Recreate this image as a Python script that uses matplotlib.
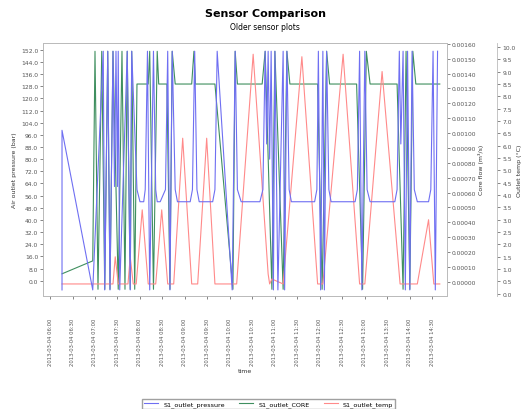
import matplotlib
matplotlib.use("Agg")
import matplotlib.pyplot as plt
import numpy as np

# time axis: minutes after 2013-03-04 06:00
tick_minutes = list(range(0, 540, 30))
tick_labels = ["2013-03-04 %02d:%02d" % (6 + m // 60, m % 60) for m in tick_minutes]

# air outlet pressure (left axis)
pres_t = [16, 16, 57, 71, 73, 77, 80, 84, 86, 88, 90, 91, 93, 103, 107, 109,
          116, 120, 125, 127, 130, 133, 138, 141, 143, 147, 154, 157, 160, 163,
          167, 170, 187, 190, 193, 196, 199, 217, 220, 223, 243, 247,
          250, 255, 280, 284, 287, 289, 291, 293, 295, 298, 300, 304, 311, 313, 316,
          319, 322, 353, 356, 358, 361, 364, 366, 369,
          372, 375, 407, 410, 413, 416, 420,
          423, 427, 460, 463, 466, 468, 471, 474, 477, 480, 483,
          486, 490, 505, 508, 511, 514, 517]
pres_v = [-6, 99, -6, 151, -6, 151, -6, 151, 62, 151, 62, 151, -6, 151, -6, 151,
          60, 52, 52, 60, 151, -6, 151, 60, 52, 52, 60, 151, -6, 151,
          60, 52, 52, 60, 151, 60, 52, 52, 60, 151, -6, 151,
          60, 52, 52, 60, 151, 90, 151, 80, 151, -6, 151, -6, 151, -6, 151,
          60, 52, 52, 60, 151, -6, 151, -6, 151,
          60, 52, 52, 60, 151, -6, 151,
          60, 52, 52, 60, 151, 90, 151, -6, 151, -6, 151,
          60, 52, 52, 60, 151, -6, 151]

# core flow (first right axis)
flow_t = [16, 57, 60, 64, 69, 73, 77, 80, 84, 91, 96, 100, 103, 107, 109, 113,
          116, 131, 133, 138, 143, 145, 156, 160, 163, 167, 189, 192, 194, 196,
          220, 244, 247, 250, 283, 287, 296, 300, 311, 316, 320,
          357, 363, 369, 373, 409, 417, 422, 427, 463, 471, 475, 480, 484, 488, 520]
flow_v = [0.000054, 0.000141, 0.00155, -0.00005, 0.00155, -0.00005, 0.00155, -0.00005,
          0.00155, -0.00005, 0.00155, -0.00005, 0.00155, -0.00005, 0.00155, -0.00005,
          0.00133, 0.00133, 0.00155, -0.00005, 0.00155, 0.00133, 0.00133, -0.00005,
          0.00155, 0.00133, 0.00133, 0.00155, 0.00133, 0.00133,
          0.00133, -0.00005, 0.00155, 0.00133, 0.00133, 0.00155, -0.00005, 0.00155,
          -0.00005, 0.00155, 0.00133,
          0.00133, -0.00005, 0.00155, 0.00133, 0.00133, -0.00005, 0.00155, 0.00133,
          0.00133, -0.00005, 0.00155, -0.00005, 0.00155, 0.00133, 0.00133]

# outlet temperature (second right axis)
temp_t = [16, 84, 87, 91, 104, 107, 111, 115, 123, 131, 141, 149, 157, 165, 177, 189,
          197, 209, 220, 249, 271, 291, 293, 296, 311, 336, 357, 364, 391, 413,
          420, 443, 467, 490, 505, 512, 520]
temp_v = [0.4, 0.4, 1.5, 0.4, 0.4, 1.5, 0.4, 0.4, 3.4, 0.4, 0.4, 3.4, 0.4, 0.4, 6.3, 0.4,
          0.4, 6.3, 0.4, 0.4, 9.7, 0.8, 0.4, 0.6, 0.4, 9.6, 0.4, 0.4, 9.7, 0.4,
          0.4, 9.0, 0.4, 0.4, 3.0, 0.4, 0.4]

series_names = ["S1_outlet_pressure", "S1_outlet_CORE", "S1_outlet_temp"]
colors = ["#6f6ff2", "#3f8f5f", "#ff8a8a"]

fig = plt.figure(figsize=(5.25, 4.1), dpi=100)
ax = fig.add_axes([0.082, 0.276, 0.769, 0.617])
ax2 = ax.twinx()
ax3 = ax.twinx()
ax3.spines["right"].set_position(("outward", 36.5))

l1, = ax.plot(pres_t, pres_v, color=colors[0], lw=0.8)
l2, = ax2.plot(flow_t, flow_v, color=colors[1], lw=0.8)
l3, = ax3.plot(temp_t, temp_v, color=colors[2], lw=0.8)
ax.set_zorder(ax3.get_zorder() + 1)
ax.patch.set_visible(False)

ax.set_xlim(-9.3, 529.3)
ax.set_ylim(-9.9, 156.5)
ax2.set_ylim(-0.0000941, 0.0016067)
ax3.set_ylim(-0.081, 10.16)

ax.set_yticks(np.arange(0, 153, 8))
ax.set_yticklabels(["%.1f" % v for v in np.arange(0, 153, 8)])
ax2.set_yticks(np.arange(0, 17) * 0.0001)
ax2.set_yticklabels(["%.5f" % (v * 0.0001) for v in range(17)])
ax3.set_yticks(np.arange(0, 10.01, 0.5))
ax3.set_yticklabels(["%.1f" % v for v in np.arange(0, 10.01, 0.5)])

ax.set_xticks(tick_minutes)
ax.set_xticklabels(tick_labels, rotation=90)

for a in (ax, ax2, ax3):
    a.tick_params(labelsize=4.3, length=2, width=0.5, colors="#555555", pad=1.5)
    for s in a.spines.values():
        s.set_color("#bbbbbb")
        s.set_linewidth(0.6)
ax.tick_params(axis="x", labelsize=3.8, pad=14)

ax.set_ylabel("Air outlet pressure (bar)", fontsize=4.5, color="#333333", labelpad=3)
ax2.set_ylabel("Core flow (m³/s)", fontsize=4.5, color="#333333", labelpad=1)
ax3.set_ylabel("Outlet temp (°C)", fontsize=4.5, color="#333333", labelpad=1)
ax.set_xlabel("time", fontsize=4.5, color="#333333", labelpad=2)

fig.text(0.505, 0.967, "Sensor Comparison", ha="center", va="center",
         fontsize=8, fontweight="bold")
fig.text(0.505, 0.934, "Older sensor plots", ha="center", va="center", fontsize=5.5)

fig.legend([l1, l2, l3], series_names, loc="center", bbox_to_anchor=(0.512, 0.012),
           ncol=3, fontsize=4.6, frameon=True, fancybox=False, edgecolor="#888888",
           handlelength=2.2, columnspacing=2.2, borderpad=0.3)

fig.savefig("out.png", dpi=100)
